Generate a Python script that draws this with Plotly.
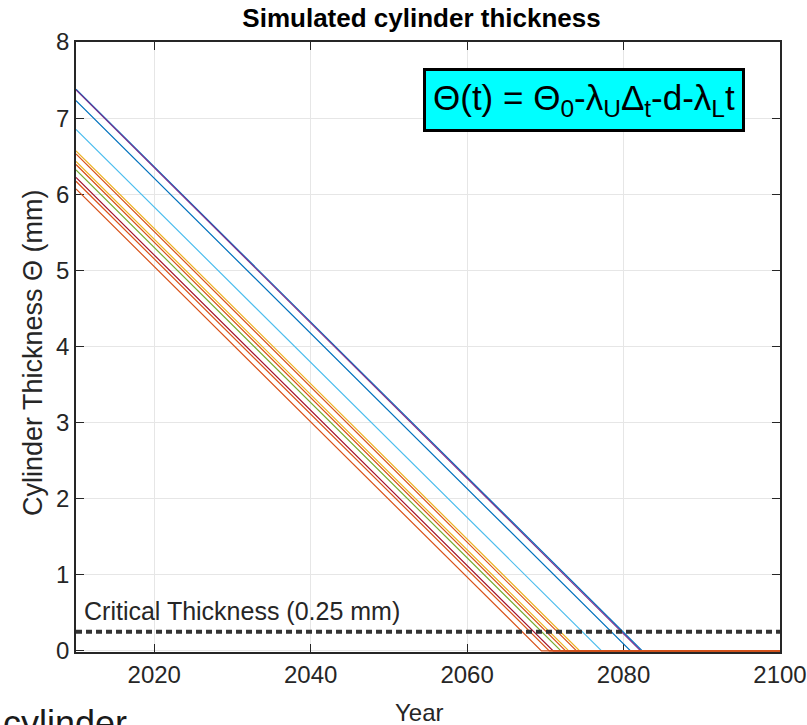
import plotly.graph_objects as go

# Simulated thickness lines: start value at 2010 and the year each reaches zero
start_year = 2010
end_year = 2100
start_thickness = [7.38, 7.37, 7.23, 6.85, 6.57, 6.53, 6.43, 6.39, 6.32, 6.22, 6.17, 6.07]
zero_year = [2082.4, 2082.2, 2080.9, 2077.2, 2074.4, 2074.0, 2073.0, 2072.6, 2072.0, 2071.0, 2070.5, 2069.5]
line_colors = ["#0072BD", "#7E2F8E", "#0072BD", "#4DBEEE", "#EDB120", "#D95319",
               "#EDB120", "#D95319", "#77AC30", "#A2142F", "#D95319", "#D95319"]

critical_thickness = 0.25
x_ticks = [2020, 2040, 2060, 2080, 2100]
y_ticks = [0, 1, 2, 3, 4, 5, 6, 7, 8]

fig = go.Figure()

for s, z, c in zip(start_thickness, zero_year, line_colors):
    fig.add_trace(go.Scatter(
        x=[start_year, z, end_year], y=[s, 0, 0], mode="lines",
        line=dict(color=c, width=1.2), showlegend=False, hoverinfo="skip"))

fig.add_trace(go.Scatter(
    x=[start_year, end_year], y=[critical_thickness, critical_thickness], mode="lines",
    line=dict(color="#333333", width=4, dash="6px,4px"), showlegend=False, hoverinfo="skip"))

font_family = "Liberation Sans, Arial, sans-serif"
L, R, T, B = 76, 780, 42, 652
PW, PH = R - L, B - T

fig.update_layout(
    width=807, height=725,
    margin=dict(l=L, r=807 - R, t=T, b=725 - B),
    paper_bgcolor="white", plot_bgcolor="white",
    font=dict(family=font_family, color="#262626"),
    title=dict(text="<b>Simulated cylinder thickness</b>", x=(L + R) / 2 / 807 - 0.008, xanchor="center",
               y=1 - 18 / 725, yanchor="middle", font=dict(size=26, color="black")),
    xaxis=dict(range=[start_year, end_year], tickvals=x_ticks, ticks="inside", ticklen=8,
               tickcolor="#262626", showline=True, linecolor="#262626", linewidth=1.5, mirror="ticks",
               showgrid=True, gridcolor="#e6e6e6", zeroline=False, tickfont=dict(size=24),
               layer="below traces", automargin=False),
    yaxis=dict(range=[-0.015, 8], tickvals=y_ticks, ticks="inside", ticklen=8,
               tickcolor="#262626", showline=True, linecolor="#262626", linewidth=1.5, mirror="ticks",
               showgrid=True, gridcolor="#e6e6e6", zeroline=False, tickfont=dict(size=24),
               layer="below traces", automargin=False),
    annotations=[
        dict(text="Θ(t) = Θ<sub>0</sub>-λ<sub>U</sub>Δ<sub>t</sub>-d-λ<sub>L</sub>t",
             xref="paper", yref="paper", x=(583.5 - L) / PW, y=(B - 100) / PH,
             xanchor="center", yanchor="middle", showarrow=False,
             font=dict(size=35, color="black"), bgcolor="#00FFFF",
             bordercolor="black", borderwidth=3, borderpad=7),
        dict(text="Critical Thickness (0.25 mm)", xref="x", yref="y", x=2010.8, y=critical_thickness + 0.06,
             xanchor="left", yanchor="bottom", showarrow=False, font=dict(size=25, color="#262626")),
        dict(text="Year", xref="paper", yref="paper", x=(419 - L) / PW, y=-(712 - B) / PH,
             xanchor="center", yanchor="middle", showarrow=False, font=dict(size=24, color="#262626")),
        dict(text="Cylinder Thickness Θ (mm)", xref="paper", yref="paper", x=-(L - 33) / PW,
             y=(B - 353) / PH, xanchor="center", yanchor="middle", textangle=-90, showarrow=False,
             font=dict(size=27, color="#262626")),
        dict(text="cylinder", xref="paper", yref="paper", x=-(L - 1) / PW, y=-(701 - B) / PH,
             xanchor="left", yanchor="top", showarrow=False, font=dict(size=36, color="#1a1a1a")),
    ],
)

fig.write_html("out.html", config={"displayModeBar": False},
               post_script="document.body.style.margin='0';document.body.style.overflow='hidden';")
